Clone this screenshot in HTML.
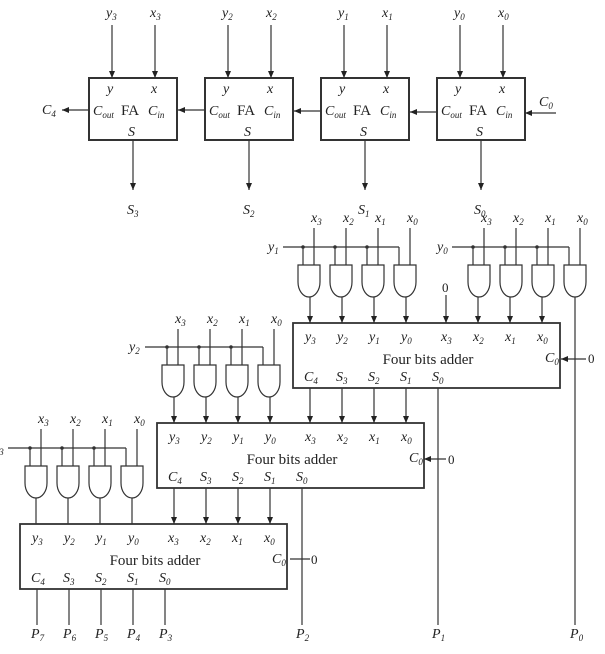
<!DOCTYPE html>
<html><head><meta charset="utf-8"><style>
html,body{margin:0;padding:0;background:#fff;}
svg{display:block;}
text{font-family:"Liberation Serif",serif;fill:#222;}
.v{font-style:italic;font-size:14px;}
.s{font-size:9px;}
.t{font-size:15px;}
</style></head><body>
<svg id="g" width="605" height="654" viewBox="0 0 605 654" xmlns="http://www.w3.org/2000/svg">
<defs><marker id="a" markerWidth="8" markerHeight="8" refX="7" refY="4" orient="auto" markerUnits="userSpaceOnUse"><path d="M0,1 L7,4 L0,7 Z" fill="#222"/></marker></defs>
<g id="geo" stroke="#333" stroke-width="1.2" fill="none"></g>

<!-- top FA labels -->
<text class="v" x="106" y="17">y<tspan class="s" dy="3">3</tspan></text><text class="v" x="150" y="17">x<tspan class="s" dy="3">3</tspan></text>
<text class="v" x="222" y="17">y<tspan class="s" dy="3">2</tspan></text><text class="v" x="266" y="17">x<tspan class="s" dy="3">2</tspan></text>
<text class="v" x="338" y="17">y<tspan class="s" dy="3">1</tspan></text><text class="v" x="382" y="17">x<tspan class="s" dy="3">1</tspan></text>
<text class="v" x="454" y="17">y<tspan class="s" dy="3">0</tspan></text><text class="v" x="498" y="17">x<tspan class="s" dy="3">0</tspan></text>

<text class="v" x="107" y="93">y</text><text class="v" x="151" y="93">x</text>
<text class="v" x="93" y="115">C<tspan class="s" dy="3">out</tspan></text><text class="t" x="121" y="115">FA</text><text class="v" x="148" y="115">C<tspan class="s" dy="3">in</tspan></text><text class="v" x="128" y="136">S</text>
<text class="v" x="223" y="93">y</text><text class="v" x="267" y="93">x</text>
<text class="v" x="209" y="115">C<tspan class="s" dy="3">out</tspan></text><text class="t" x="237" y="115">FA</text><text class="v" x="264" y="115">C<tspan class="s" dy="3">in</tspan></text><text class="v" x="244" y="136">S</text>
<text class="v" x="339" y="93">y</text><text class="v" x="383" y="93">x</text>
<text class="v" x="325" y="115">C<tspan class="s" dy="3">out</tspan></text><text class="t" x="353" y="115">FA</text><text class="v" x="380" y="115">C<tspan class="s" dy="3">in</tspan></text><text class="v" x="360" y="136">S</text>
<text class="v" x="455" y="93">y</text><text class="v" x="499" y="93">x</text>
<text class="v" x="441" y="115">C<tspan class="s" dy="3">out</tspan></text><text class="t" x="469" y="115">FA</text><text class="v" x="496" y="115">C<tspan class="s" dy="3">in</tspan></text><text class="v" x="476" y="136">S</text>

<text class="v" x="42" y="114">C<tspan class="s" dy="3">4</tspan></text>
<text class="v" x="539" y="106">C<tspan class="s" dy="3">0</tspan></text>
<text class="v" x="127" y="214">S<tspan class="s" dy="3">3</tspan></text>
<text class="v" x="243" y="214">S<tspan class="s" dy="3">2</tspan></text>
<text class="v" x="358" y="214">S<tspan class="s" dy="3">1</tspan></text>
<text class="v" x="474" y="214">S<tspan class="s" dy="3">0</tspan></text>

<!-- gate group labels -->
<text class="v" x="311" y="222">x<tspan class="s" dy="3">3</tspan></text><text class="v" x="343" y="222">x<tspan class="s" dy="3">2</tspan></text><text class="v" x="375" y="222">x<tspan class="s" dy="3">1</tspan></text><text class="v" x="407" y="222">x<tspan class="s" dy="3">0</tspan></text>
<text class="v" x="268" y="251">y<tspan class="s" dy="3">1</tspan></text>
<text class="v" x="481" y="222">x<tspan class="s" dy="3">3</tspan></text><text class="v" x="513" y="222">x<tspan class="s" dy="3">2</tspan></text><text class="v" x="545" y="222">x<tspan class="s" dy="3">1</tspan></text><text class="v" x="577" y="222">x<tspan class="s" dy="3">0</tspan></text>
<text class="v" x="437" y="251">y<tspan class="s" dy="3">0</tspan></text>
<text x="442" y="292" font-size="13">0</text>

<text class="v" x="175" y="323">x<tspan class="s" dy="3">3</tspan></text><text class="v" x="207" y="323">x<tspan class="s" dy="3">2</tspan></text><text class="v" x="239" y="323">x<tspan class="s" dy="3">1</tspan></text><text class="v" x="271" y="323">x<tspan class="s" dy="3">0</tspan></text>
<text class="v" x="129" y="351">y<tspan class="s" dy="3">2</tspan></text>

<text class="v" x="38" y="423">x<tspan class="s" dy="3">3</tspan></text><text class="v" x="70" y="423">x<tspan class="s" dy="3">2</tspan></text><text class="v" x="102" y="423">x<tspan class="s" dy="3">1</tspan></text><text class="v" x="134" y="423">x<tspan class="s" dy="3">0</tspan></text>
<text class="v" x="-7" y="452">y<tspan class="s" dy="3">3</tspan></text>

<!-- adder 1 (293,323) -->
<text class="v" x="305" y="341">y<tspan class="s" dy="3">3</tspan></text><text class="v" x="337" y="341">y<tspan class="s" dy="3">2</tspan></text><text class="v" x="369" y="341">y<tspan class="s" dy="3">1</tspan></text><text class="v" x="401" y="341">y<tspan class="s" dy="3">0</tspan></text>
<text class="v" x="441" y="341">x<tspan class="s" dy="3">3</tspan></text><text class="v" x="473" y="341">x<tspan class="s" dy="3">2</tspan></text><text class="v" x="505" y="341">x<tspan class="s" dy="3">1</tspan></text><text class="v" x="537" y="341">x<tspan class="s" dy="3">0</tspan></text>
<text class="t" x="428" y="364" text-anchor="middle">Four bits adder</text>
<text class="v" x="545" y="362">C<tspan class="s" dy="3">0</tspan></text>
<text class="v" x="304" y="381">C<tspan class="s" dy="3">4</tspan></text><text class="v" x="336" y="381">S<tspan class="s" dy="3">3</tspan></text><text class="v" x="368" y="381">S<tspan class="s" dy="3">2</tspan></text><text class="v" x="400" y="381">S<tspan class="s" dy="3">1</tspan></text><text class="v" x="432" y="381">S<tspan class="s" dy="3">0</tspan></text>
<text x="588" y="363" font-size="13">0</text>

<!-- adder 2 (157,423) -->
<text class="v" x="169" y="441">y<tspan class="s" dy="3">3</tspan></text><text class="v" x="201" y="441">y<tspan class="s" dy="3">2</tspan></text><text class="v" x="233" y="441">y<tspan class="s" dy="3">1</tspan></text><text class="v" x="265" y="441">y<tspan class="s" dy="3">0</tspan></text>
<text class="v" x="305" y="441">x<tspan class="s" dy="3">3</tspan></text><text class="v" x="337" y="441">x<tspan class="s" dy="3">2</tspan></text><text class="v" x="369" y="441">x<tspan class="s" dy="3">1</tspan></text><text class="v" x="401" y="441">x<tspan class="s" dy="3">0</tspan></text>
<text class="t" x="292" y="464" text-anchor="middle">Four bits adder</text>
<text class="v" x="409" y="462">C<tspan class="s" dy="3">0</tspan></text>
<text class="v" x="168" y="481">C<tspan class="s" dy="3">4</tspan></text><text class="v" x="200" y="481">S<tspan class="s" dy="3">3</tspan></text><text class="v" x="232" y="481">S<tspan class="s" dy="3">2</tspan></text><text class="v" x="264" y="481">S<tspan class="s" dy="3">1</tspan></text><text class="v" x="296" y="481">S<tspan class="s" dy="3">0</tspan></text>
<text x="448" y="464" font-size="13">0</text>

<!-- adder 3 (20,524) -->
<text class="v" x="32" y="542">y<tspan class="s" dy="3">3</tspan></text><text class="v" x="64" y="542">y<tspan class="s" dy="3">2</tspan></text><text class="v" x="96" y="542">y<tspan class="s" dy="3">1</tspan></text><text class="v" x="128" y="542">y<tspan class="s" dy="3">0</tspan></text>
<text class="v" x="168" y="542">x<tspan class="s" dy="3">3</tspan></text><text class="v" x="200" y="542">x<tspan class="s" dy="3">2</tspan></text><text class="v" x="232" y="542">x<tspan class="s" dy="3">1</tspan></text><text class="v" x="264" y="542">x<tspan class="s" dy="3">0</tspan></text>
<text class="t" x="155" y="565" text-anchor="middle">Four bits adder</text>
<text class="v" x="272" y="563">C<tspan class="s" dy="3">0</tspan></text>
<text class="v" x="31" y="582">C<tspan class="s" dy="3">4</tspan></text><text class="v" x="63" y="582">S<tspan class="s" dy="3">3</tspan></text><text class="v" x="95" y="582">S<tspan class="s" dy="3">2</tspan></text><text class="v" x="127" y="582">S<tspan class="s" dy="3">1</tspan></text><text class="v" x="159" y="582">S<tspan class="s" dy="3">0</tspan></text>
<text x="311" y="564" font-size="13">0</text>

<text class="v" x="31" y="638">P<tspan class="s" dy="3">7</tspan></text><text class="v" x="63" y="638">P<tspan class="s" dy="3">6</tspan></text><text class="v" x="95" y="638">P<tspan class="s" dy="3">5</tspan></text><text class="v" x="127" y="638">P<tspan class="s" dy="3">4</tspan></text><text class="v" x="159" y="638">P<tspan class="s" dy="3">3</tspan></text>
<text class="v" x="296" y="638">P<tspan class="s" dy="3">2</tspan></text>
<text class="v" x="432" y="638">P<tspan class="s" dy="3">1</tspan></text>
<text class="v" x="570" y="638">P<tspan class="s" dy="3">0</tspan></text>
</svg>
<script>
var G=document.getElementById('geo'),NS='http://www.w3.org/2000/svg';
function el(n,a){var e=document.createElementNS(NS,n);for(var k in a)e.setAttribute(k,a[k]);G.appendChild(e);return e;}
function L(x1,y1,x2,y2,ar){var e=el('line',{x1:x1,y1:y1,x2:x2,y2:y2});if(ar)e.setAttribute('marker-end','url(#a)');}
function dot(x,y){el('circle',{cx:x,cy:y,r:1.8,fill:'#333',stroke:'none'});}
// top FAs
var bx=[89,205,321,437];
bx.forEach(function(b){el('rect',{x:b,y:78,width:88,height:62,'stroke-width':2});L(b+23,25,b+23,78,1);L(b+66,25,b+66,78,1);L(b+44,140,b+44,190,1);});
L(89,110,62,110,1);L(205,110,178,110,1);L(321,111,294,111,1);L(437,112,410,112,1);L(556,113,525,113,1);
// adders
[[293,323],[157,423],[20,524]].forEach(function(p){el('rect',{x:p[0],y:p[1],width:267,height:65,'stroke-width':1.8});});
function gate(cx,top){el('path',{d:'M'+(cx-11)+','+top+' V'+(top+17)+' A11,15 0 0 0 '+(cx+11)+','+(top+17)+' V'+top+' Z'});}
function group(cs,top,yl,xlab,ystart,last){
 cs.forEach(function(c,i){gate(c,top);L(c+5,xlab,c+5,top);
  if(i<3){L(c-6,yl,c-6,top);dot(c-6,yl);}});
 var e=cs[3]-6;L(ystart,yl,e,yl);L(e,yl,e,top);
}
group([309,341,373,405],265,247,228,283);
group([479,511,543,575],265,247,228,452);
group([173,205,237,269],365,347,329,145);
group([36,68,100,132],466,448,429,8);
// gate outputs
[310,342,374,406,478,510,542].forEach(function(x){L(x,297,x,323,1);});
L(575,297,575,625);
[174,206,238,270].forEach(function(x){L(x,397,x,423,1);});
[36,68,100,132].forEach(function(x){L(x,498,x,524);});
L(446,295,446,323,1);
// adder outputs
[310,342,374,406].forEach(function(x){L(x,388,x,423,1);});
L(438,388,438,625);
[174,206,238,270].forEach(function(x){L(x,488,x,524,1);});
L(302,488,302,625);
[37,69,101,133,165].forEach(function(x){L(x,589,x,625);});
// C0 inputs
L(586,359,561,359,1);L(446,459,424,459,1);L(290,559,310,559);
</script>
</body></html>
